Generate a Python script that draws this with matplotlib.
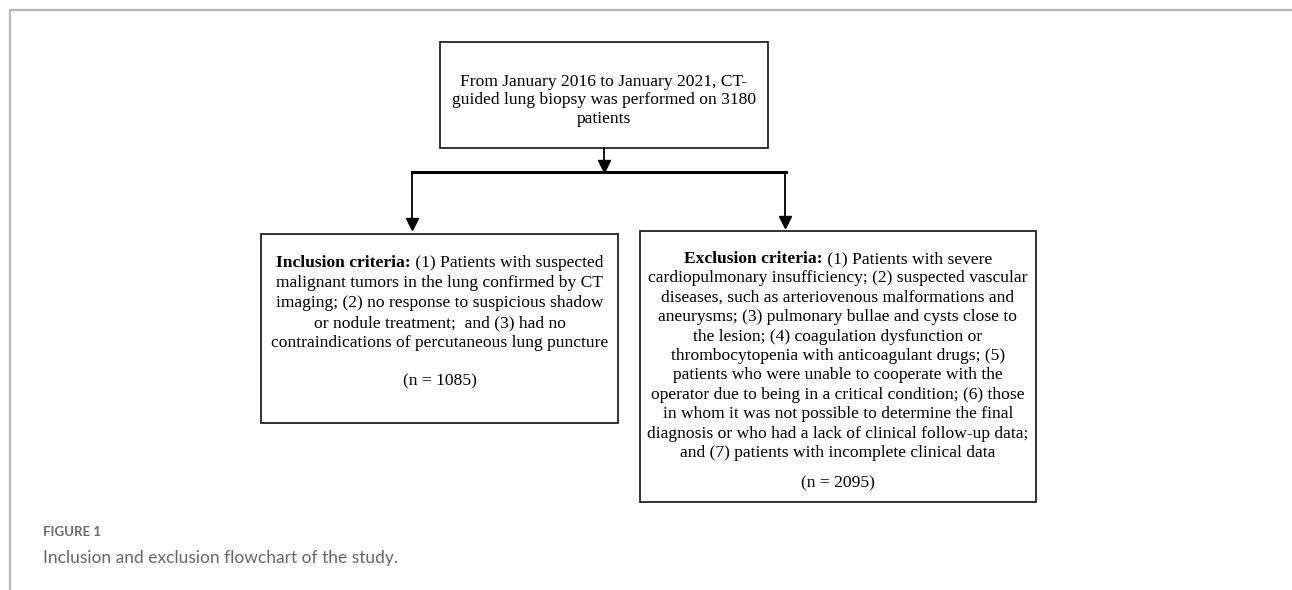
import matplotlib
matplotlib.use("Agg")
import matplotlib.pyplot as plt
from matplotlib.patches import Rectangle

W, H, DPI = 1292, 590, 100

top_lines = ["From January 2016 to January 2021, CT-",
             "guided lung biopsy was performed on 3180",
             "patients"]
incl_bold = "Inclusion criteria:"
incl_lines = [" (1) Patients with suspected",
              "malignant tumors in the lung confirmed by CT",
              "imaging; (2) no response to suspicious shadow",
              "or nodule treatment;  and (3) had no",
              "contraindications of percutaneous lung puncture"]
incl_n = "(n = 1085)"
excl_bold = "Exclusion criteria:"
excl_lines = [" (1) Patients with severe",
              "cardiopulmonary insufficiency; (2) suspected vascular",
              "diseases, such as arteriovenous malformations and",
              "aneurysms; (3) pulmonary bullae and cysts close to",
              "the lesion; (4) coagulation dysfunction or",
              "thrombocytopenia with anticoagulant drugs; (5)",
              "patients who were unable to cooperate with the",
              "operator due to being in a critical condition; (6) those",
              "in whom it was not possible to determine the final",
              "diagnosis or who had a lack of clinical follow-up data;",
              "and (7) patients with incomplete clinical data"]
excl_n = "(n = 2095)"
fig_label = "FIGURE 1"
caption = "Inclusion and exclusion flowchart of the study."

SERIF = "Liberation Serif"
FS = 12.6

fig = plt.figure(figsize=(W / DPI, H / DPI), dpi=DPI)
ax = fig.add_axes([0, 0, 1, 1])
ax.set_xlim(0, W)
ax.set_ylim(H, 0)
ax.axis("off")

# outer frame
ax.plot([10, 10, W], [H, 10, 10], color="#b5b5b5", lw=1.6, solid_capstyle="butt")

def box(x0, y0, x1, y1):
    ax.add_patch(Rectangle((x0, y0), x1 - x0, y1 - y0, fill=False,
                           edgecolor="#222222", lw=1.3))

box(440, 42, 768, 148)
box(261, 234, 618, 423)
box(640, 231, 1036, 502)

# connectors
ax.plot([604, 604], [148, 162], color="black", lw=1.3)
ax.plot([604], [166], marker="v", color="black", markersize=8)
ax.plot([412, 786], [172, 172], color="black", lw=2.2, solid_capstyle="projecting")
ax.plot([412, 412], [172, 220], color="black", lw=1.3)
ax.plot([412], [224], marker="v", color="black", markersize=8)
ax.plot([785, 785], [172, 218], color="black", lw=1.3)
ax.plot([785], [222], marker="v", color="black", markersize=8)

fig.canvas.draw()
renderer = fig.canvas.get_renderer()

def width_of(t):
    bb = t.get_window_extent(renderer=renderer)
    return bb.width

def mixed_line(cx, y, bold, rest):
    tb = ax.text(0, y, bold, fontsize=FS, family=SERIF, fontweight="bold",
                 ha="left", va="center", color="black")
    tr = ax.text(0, y, rest, fontsize=FS, family=SERIF,
                 ha="left", va="center", color="black")
    wb, wr = width_of(tb), width_of(tr)
    x0 = cx - (wb + wr) / 2
    tb.set_x(x0)
    tr.set_x(x0 + wb)

def plain(cx, y, s):
    ax.text(cx, y, s, fontsize=FS, family=SERIF, ha="center", va="center", color="black")

# top box text
for i, s in enumerate(top_lines):
    plain(604, 82 + i * 18.5, s)

# inclusion
cx = (261 + 618) / 2
mixed_line(cx, 263, incl_bold, incl_lines[0])
for i, s in enumerate(incl_lines[1:], start=1):
    plain(cx, 263 + i * 20, s)
plain(cx, 381, incl_n)

# exclusion
cx = (640 + 1036) / 2
mixed_line(cx, 259, excl_bold, excl_lines[0])
for i, s in enumerate(excl_lines[1:], start=1):
    plain(cx, 259 + i * 19.4, s)
plain(cx, 483, excl_n)

# caption
ax.text(43, 532, fig_label, fontsize=9.5, family="Lato", fontweight="bold",
        color="#6b6b6b", ha="left", va="center")
ax.text(43, 558, caption, fontsize=12.5, family="Lato",
        color="#666666", ha="left", va="center")

fig.savefig("out.png", dpi=DPI)
